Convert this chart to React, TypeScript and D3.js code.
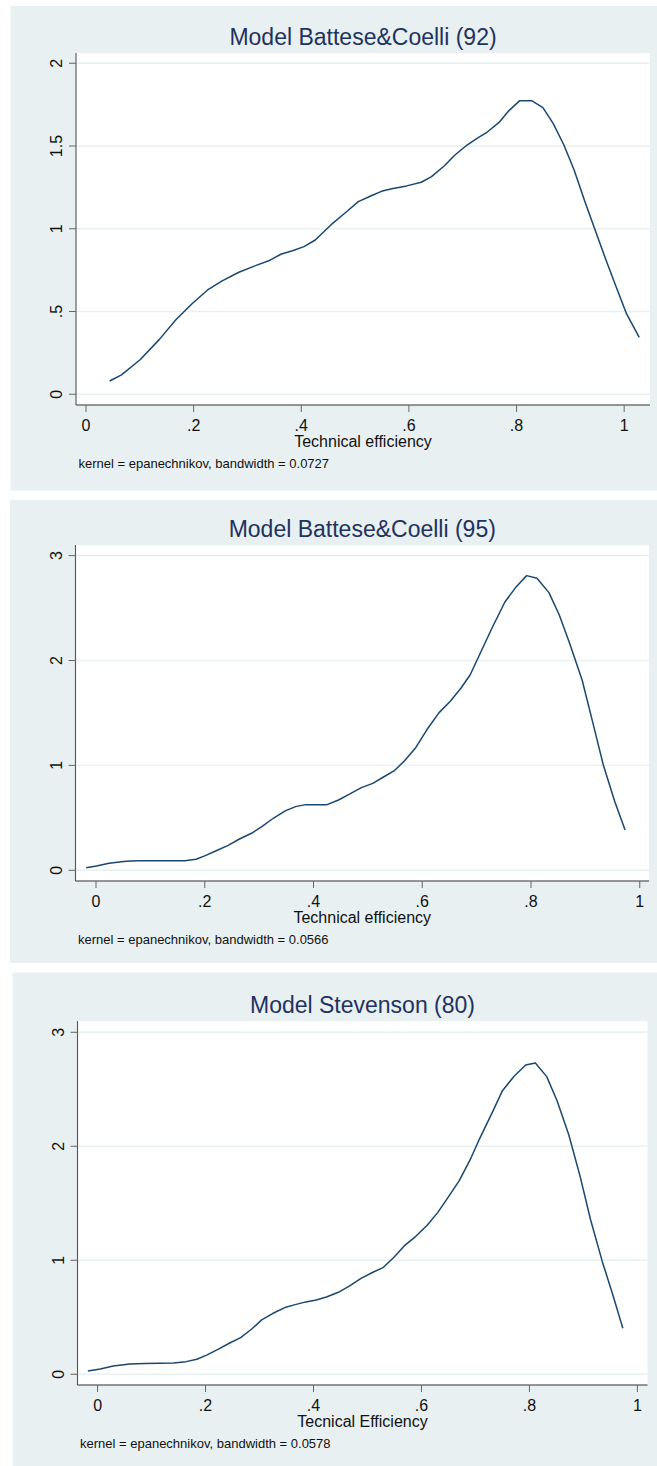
import React from 'react';
import * as d3 from 'd3';

// Kernel density estimates
const bc92X = [0.044, 0.066, 0.101, 0.136, 0.167, 0.198, 0.226, 0.253, 0.284, 0.315, 0.342, 0.362, 0.385, 0.405, 0.426, 0.455, 0.483, 0.506, 0.529, 0.549, 0.568, 0.596, 0.623, 0.642, 0.666, 0.685, 0.708, 0.728, 0.745, 0.767, 0.786, 0.806, 0.828, 0.849, 0.868, 0.888, 0.907, 0.926, 0.946, 0.965, 0.985, 1.004, 1.028];
const bc92Y = [0.08, 0.117, 0.21, 0.33, 0.45, 0.55, 0.63, 0.685, 0.737, 0.777, 0.81, 0.846, 0.869, 0.892, 0.932, 1.023, 1.1, 1.164, 1.198, 1.226, 1.242, 1.259, 1.281, 1.315, 1.381, 1.444, 1.506, 1.549, 1.583, 1.641, 1.714, 1.774, 1.774, 1.732, 1.637, 1.506, 1.355, 1.174, 0.993, 0.822, 0.65, 0.489, 0.344];

const bc95X = [-0.018, 0.001, 0.024, 0.055, 0.078, 0.132, 0.163, 0.184, 0.201, 0.22, 0.243, 0.263, 0.286, 0.305, 0.326, 0.348, 0.367, 0.386, 0.425, 0.446, 0.467, 0.488, 0.509, 0.528, 0.548, 0.567, 0.588, 0.609, 0.631, 0.652, 0.671, 0.688, 0.706, 0.729, 0.752, 0.773, 0.792, 0.811, 0.833, 0.852, 0.871, 0.894, 0.914, 0.933, 0.954, 0.973];
const bc95Y = [0.025, 0.041, 0.067, 0.086, 0.092, 0.092, 0.092, 0.105, 0.14, 0.184, 0.238, 0.296, 0.353, 0.416, 0.496, 0.566, 0.607, 0.626, 0.626, 0.67, 0.728, 0.788, 0.829, 0.887, 0.947, 1.042, 1.169, 1.344, 1.503, 1.614, 1.735, 1.862, 2.062, 2.317, 2.558, 2.704, 2.809, 2.784, 2.647, 2.434, 2.164, 1.814, 1.401, 1.004, 0.655, 0.385];

const stev80X = [-0.018, 0.005, 0.029, 0.06, 0.087, 0.141, 0.164, 0.184, 0.203, 0.223, 0.244, 0.265, 0.285, 0.304, 0.325, 0.347, 0.366, 0.386, 0.405, 0.424, 0.446, 0.467, 0.488, 0.51, 0.529, 0.549, 0.568, 0.589, 0.611, 0.63, 0.649, 0.67, 0.69, 0.708, 0.731, 0.75, 0.772, 0.793, 0.811, 0.832, 0.851, 0.873, 0.894, 0.913, 0.935, 0.954, 0.973];
const stev80Y = [0.029, 0.047, 0.073, 0.091, 0.094, 0.099, 0.111, 0.132, 0.17, 0.219, 0.272, 0.322, 0.395, 0.477, 0.535, 0.585, 0.611, 0.635, 0.652, 0.678, 0.719, 0.775, 0.842, 0.895, 0.936, 1.026, 1.126, 1.208, 1.31, 1.418, 1.55, 1.699, 1.88, 2.07, 2.295, 2.488, 2.617, 2.713, 2.731, 2.611, 2.401, 2.099, 1.734, 1.36, 0.988, 0.705, 0.404];

const xTicks = [0, 0.2, 0.4, 0.6, 0.8, 1];
const yTicksBC92 = [0, 0.5, 1, 1.5, 2];
const yTicksOther = [0, 1, 2, 3];

const titles = ['Model Battese&Coelli (92)', 'Model Battese&Coelli (95)', 'Model Stevenson (80)'];
const xTitles = ['Technical efficiency', 'Technical efficiency', 'Tecnical Efficiency'];
const notes = [
  'kernel = epanechnikov, bandwidth = 0.0727',
  'kernel = epanechnikov, bandwidth = 0.0566',
  'kernel = epanechnikov, bandwidth = 0.0578',
];

const FONT = '"Liberation Sans", Arial, Helvetica, sans-serif';
const BG = '#e8f0f2';
const NAVY = '#1a476f';

const stataFmt = (v: number) => d3.format('~g')(v).replace(/^0\./, '.');

type Layout = {
  bg: [number, number, number, number];
  left: number; top: number; right: number; bottom: number;
  xDomain: [number, number];
  yDomain: [number, number];
};

const layouts: Layout[] = [
  { bg: [10.5, 6, 646.5, 484.5], left: 76, top: 53, right: 650, bottom: 405, xDomain: [-0.0186, 1.048], yDomain: [-0.065, 2.062] },
  { bg: [10, 500, 647, 463], left: 75.5, top: 545, right: 649, bottom: 881, xDomain: [-0.0377, 1.017], yDomain: [-0.102, 3.101] },
  { bg: [12.5, 972.5, 644.5, 493.5], left: 77.5, top: 1021, right: 647.5, bottom: 1385, xDomain: [-0.0372, 1.0187], yDomain: [-0.094, 3.099] },
];

function Panel({ layout, xs, ys, yTicks, title, xTitle, note }: {
  layout: Layout; xs: number[]; ys: number[]; yTicks: number[];
  title: string; xTitle: string; note: string;
}) {
  const { left, top, right, bottom } = layout;
  const x = d3.scaleLinear().domain(layout.xDomain).range([left, right]);
  const y = d3.scaleLinear().domain(layout.yDomain).range([bottom, top]);
  const pts = xs.map((v, i) => [v, ys[i]] as [number, number]);
  const line = d3.line<[number, number]>().x(d => x(d[0])).y(d => y(d[1]));
  const cx = (left + right) / 2;

  return (
    <g fontFamily={FONT}>
      <rect x={layout.bg[0]} y={layout.bg[1]} width={layout.bg[2]} height={layout.bg[3]} fill={BG} />
      <rect x={left} y={top} width={right - left} height={bottom - top} fill="#ffffff" />
      {yTicks.map(t => (
        <line key={'g' + t} x1={left} x2={right} y1={y(t)} y2={y(t)} stroke={BG} strokeWidth={1.4} />
      ))}
      <path d={line(pts) || ''} fill="none" stroke={NAVY} strokeWidth={1.5} strokeLinejoin="round" />
      <line x1={left} x2={left} y1={top} y2={bottom} stroke="#555" strokeWidth={1.1} />
      <line x1={left} x2={right} y1={bottom} y2={bottom} stroke="#333" strokeWidth={1.1} />
      {yTicks.map(t => (
        <g key={'y' + t}>
          <line x1={left - 7} x2={left} y1={y(t)} y2={y(t)} stroke="#666" strokeWidth={1} />
          <text transform={`translate(${left - 14},${y(t)}) rotate(-90)`} textAnchor="middle" fontSize={16} fill="#111">
            {stataFmt(t)}
          </text>
        </g>
      ))}
      {xTicks.map(t => (
        <g key={'x' + t}>
          <line x1={x(t)} x2={x(t)} y1={bottom} y2={bottom + 7} stroke="#666" strokeWidth={1} />
          <text x={x(t)} y={bottom + 26} textAnchor="middle" fontSize={16} fill="#111">
            {stataFmt(t)}
          </text>
        </g>
      ))}
      <text x={cx} y={top - 8.5} textAnchor="middle" fontSize={23} fill="#1f3260">{title}</text>
      <text x={cx} y={bottom + 41.5} textAnchor="middle" fontSize={16} fill="#111">{xTitle}</text>
      <text x={left + 2.5} y={bottom + 63} fontSize={13} fill="#111">{note}</text>
    </g>
  );
}

export default function App() {
  const series = [
    { xs: bc92X, ys: bc92Y, yTicks: yTicksBC92 },
    { xs: bc95X, ys: bc95Y, yTicks: yTicksOther },
    { xs: stev80X, ys: stev80Y, yTicks: yTicksOther },
  ];
  return (
    <svg width={657} height={1466} style={{ position: 'absolute', left: 0, top: 0, background: '#fff' }}>
      {series.map((s, i) => (
        <Panel key={i} layout={layouts[i]} xs={s.xs} ys={s.ys} yTicks={s.yTicks}
          title={titles[i]} xTitle={xTitles[i]} note={notes[i]} />
      ))}
    </svg>
  );
}
